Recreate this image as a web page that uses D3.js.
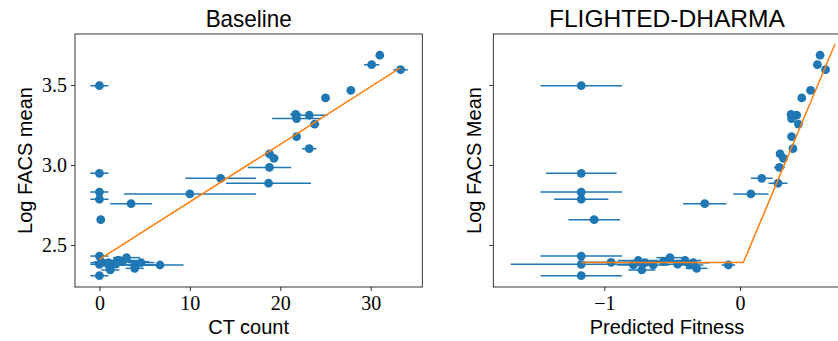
<!DOCTYPE html>
<html><head><meta charset="utf-8">
<script src="https://cdn.jsdelivr.net/npm/d3@7"></script>
<style>body{margin:0;background:#fff}svg{display:block}</style>
</head><body>
<svg id="chart" width="838" height="341"></svg>
<script>
// ---- data ----
const logFacs = [3.686,3.627,3.596,3.467,3.419,3.317,3.311,3.290,3.256,3.177,3.102,3.069,3.042,2.985,2.948,2.917,2.886,2.831,2.819,2.786,2.758,2.658,3.496,2.431,2.379,2.308,2.392,2.375,
  2.403,2.375,2.344,2.375,2.396,2.421,2.403,2.375,2.354,2.389,2.390,2.380];
const ctCount = [31.0,30.1,33.3,27.8,25.0,21.7,23.2,21.8,23.8,21.8,23.2,18.8,19.3,18.8,0,13.4,18.7,0,10.0,0,3.5,0.15,0,0,0,0,0.3,6.7,
  2.0,1.0,1.2,4.0,2.5,3.0,2.2,3.9,3.9,1.0,4.6,1.8];
const ctErr = [0,0.85,0.8,0.3,0.3,0.6,2.0,2.7,0.5,0.3,0.8,0.5,0.5,2.4,1.0,3.9,4.7,1.0,7.3,1.0,2.3,0,1.0,1.0,1.0,1.0,1.0,2.6,
  1.5,1.0,1.0,2.0,3.0,1.5,2.0,2.5,1.0,2.0,1.5,1.0];
const predFit = [0.59,0.57,0.63,0.52,0.455,0.376,0.418,0.38,0.43,0.38,0.39,0.295,0.32,0.29,-1.17,0.16,0.28,-1.17,0.08,-1.17,-0.26,-1.075,-1.17,-1.17,-1.17,-1.17,-0.95,-0.086,
  -0.75,-0.786,-0.724,-0.64,-0.565,-0.516,-0.405,-0.37,-0.32,-0.345,-0.70,-0.46];
const fitErr = [0.02,0.03,0.02,0.03,0.02,0.03,0.03,0.02,0.02,0.02,0.02,0.02,0.02,0.04,0.26,0.08,0.07,0.30,0.13,0.20,0.16,0.19,0.30,0.30,0.52,0.30,0.20,0.05,
  0.15,0.12,0.10,0.12,0.15,0.10,0.12,0.10,0.08,0.12,0.15,0.10];
const baselineFitX = [0, 33.3];
const baselineFitY = [2.41, 3.608];
const dharmaFitX = [-1.17, 0.024, 0.70];
const dharmaFitY = [2.39, 2.39, 3.756];
const yTicks = [2.5, 3.0, 3.5];
const ctTicks = [0, 10, 20, 30];
const fitTicks = [-1, 0];
const titles = ["Baseline", "FLIGHTED-DHARMA"];
const xLabels = ["CT count", "Predicted Fitness"];
const yLabels = ["Log FACS mean", "Log FACS Mean"];

// ---- drawing ----
const C0 = "#1f77b4", C1 = "#ff7f0e";
const svg = d3.select("#chart");
const plotTop = 34, plotBottom = 287;
const y = d3.scaleLinear().domain([2.2375, 3.81875]).range([plotBottom, plotTop]);
const panels = [
  {x: d3.scaleLinear().domain([-2.7, 35.7]).range([75, 422.3]), xv: ctCount, xe: ctErr, ticks: ctTicks,
   fmt: d => d3.format("d")(d), lx: baselineFitX, ly: baselineFitY, showY: true, ylx: 25, titleW: 86},
  {x: d3.scaleLinear().domain([-1.818, 0.741]).range([493.3, 840.6]), xv: predFit, xe: fitErr, ticks: fitTicks,
   fmt: d => d < 0 ? "\u2212" + Math.abs(d) : String(d), lx: dharmaFitX, ly: dharmaFitY, showY: false, ylx: 474, titleW: 236}
];
const sans = "'Liberation Sans', 'DejaVu Sans', sans-serif";
const serif = "'Liberation Serif', 'DejaVu Serif', serif";

panels.forEach((p, i) => {
  const g = svg.append("g");
  const [x0, x1] = p.x.range();
  const clipId = "clip" + i;
  svg.append("clipPath").attr("id", clipId).append("rect")
    .attr("x", x0).attr("y", plotTop).attr("width", x1 - x0).attr("height", plotBottom - plotTop);
  const plot = g.append("g").attr("clip-path", `url(#${clipId})`);
  const idx = d3.range(logFacs.length);
  plot.selectAll("line.err").data(idx).join("line").attr("class", "err")
    .attr("x1", d => p.x(p.xv[d] - p.xe[d])).attr("x2", d => p.x(p.xv[d] + p.xe[d]))
    .attr("y1", d => y(logFacs[d])).attr("y2", d => y(logFacs[d]))
    .attr("stroke", C0).attr("stroke-width", 1.5);
  plot.selectAll("circle").data(idx).join("circle")
    .attr("cx", d => p.x(p.xv[d])).attr("cy", d => y(logFacs[d])).attr("r", 4.4)
    .attr("fill", C0);
  const line = d3.line().x(d => p.x(d[0])).y(d => y(d[1]));
  plot.append("path").datum(d3.zip(p.lx, p.ly)).attr("d", line)
    .attr("fill", "none").attr("stroke", C1).attr("stroke-width", 1.5);
  const xa = g.append("g").attr("transform", `translate(0,${plotBottom})`)
    .call(d3.axisBottom(p.x).tickValues(p.ticks).tickFormat(p.fmt).tickSize(4).tickPadding(5).tickSizeOuter(0));
  xa.select(".domain").remove();
  xa.selectAll("text").attr("font-family", serif).attr("font-size", 20).attr("fill", "#000");
  xa.selectAll("line").attr("stroke", "#000").attr("stroke-width", 0.8);
  const ya = g.append("g").attr("transform", `translate(${x0},0)`)
    .call(d3.axisLeft(y).tickValues(yTicks).tickFormat(p.showY ? d3.format(".1f") : () => "").tickSize(4).tickPadding(4).tickSizeOuter(0));
  ya.select(".domain").remove();
  ya.selectAll("text").attr("font-family", serif).attr("font-size", 20).attr("fill", "#000");
  ya.selectAll("line").attr("stroke", "#000").attr("stroke-width", 0.8);
  g.append("rect").attr("x", x0).attr("y", plotTop).attr("width", x1 - x0).attr("height", plotBottom - plotTop)
    .attr("fill", "none").attr("stroke", "#000").attr("stroke-width", 0.8);
  g.append("text").attr("x", (x0 + x1) / 2).attr("y", 27).attr("text-anchor", "middle")
    .attr("font-family", sans).attr("font-size", 24)
    .attr("textLength", p.titleW).attr("lengthAdjust", "spacingAndGlyphs").text(titles[i]);
  g.append("text").attr("x", (x0 + x1) / 2).attr("y", 334).attr("text-anchor", "middle")
    .attr("font-family", sans).attr("font-size", 20).text(xLabels[i]);
  g.append("text").attr("transform", `translate(${p.ylx + 7},${(plotTop + plotBottom) / 2}) rotate(-90)`)
    .attr("text-anchor", "middle").attr("font-family", sans).attr("font-size", 20).text(yLabels[i]);
});
</script>
</body></html>
